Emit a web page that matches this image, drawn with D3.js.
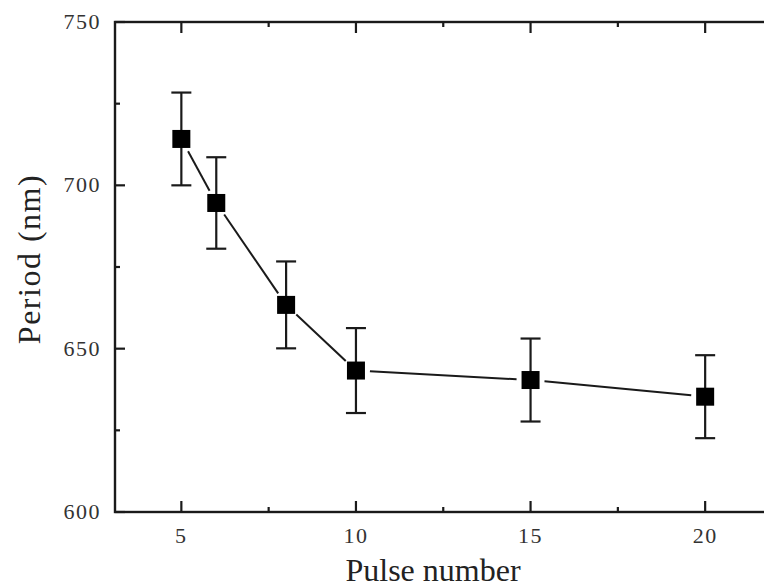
<!DOCTYPE html>
<html>
<head>
<meta charset="UTF-8">
<script src="https://cdnjs.cloudflare.com/ajax/libs/d3/7.8.5/d3.min.js"></script>
<style>
*{margin:0;padding:0}
body{background:#fff;overflow:hidden}
svg{display:block}
</style>
</head>
<body>
<div id="chart"></div>
<script>
// pulse number vs grating period
const pulses = [5, 6, 8, 10, 15, 20];
const periods = [714.2, 694.6, 663.4, 643.3, 640.4, 635.3];
const errors = [14.2, 14, 13.3, 13, 12.7, 12.7];
const xMajor = [5, 10, 15, 20];
const xMinor = [7.5, 12.5, 17.5];
const yMajor = [600, 650, 700, 750];
const yMinor = [625, 675, 725];

const W = 764, H = 587;
const x = d3.scaleLinear().domain([3.1, 22]).range([115, 775]);
const y = d3.scaleLinear().domain([600, 750]).range([512, 22]);
const serif = "'Liberation Serif','Times New Roman',serif";

const svg = d3.select('#chart').append('svg').attr('width', W).attr('height', H);

// frame (right side falls outside the picture)
svg.append('rect').attr('x', x.range()[0]).attr('y', y.range()[1])
  .attr('width', x.range()[1] - x.range()[0]).attr('height', y.range()[0] - y.range()[1])
  .attr('fill', 'none').attr('stroke', '#1a1a1a').attr('stroke-width', 2.4);

// inward ticks, mirrored on top
const tk = svg.append('g').attr('stroke', '#1a1a1a').attr('stroke-width', 2.2);
xMajor.forEach(v => {
  tk.append('line').attr('x1', x(v)).attr('x2', x(v)).attr('y1', y(600)).attr('y2', y(600) - 11);
  tk.append('line').attr('x1', x(v)).attr('x2', x(v)).attr('y1', y(750)).attr('y2', y(750) + 11);
});
xMinor.forEach(v => {
  tk.append('line').attr('x1', x(v)).attr('x2', x(v)).attr('y1', y(600)).attr('y2', y(600) - 5);
  tk.append('line').attr('x1', x(v)).attr('x2', x(v)).attr('y1', y(750)).attr('y2', y(750) + 5);
});
yMajor.forEach(v => tk.append('line').attr('x1', x(3.1)).attr('x2', x(3.1) + 10).attr('y1', y(v)).attr('y2', y(v)));
yMinor.forEach(v => tk.append('line').attr('x1', x(3.1)).attr('x2', x(3.1) + 5).attr('y1', y(v)).attr('y2', y(v)));

// tick labels
xMajor.forEach(v => svg.append('text').attr('x', x(v)).attr('y', 543).attr('text-anchor', 'middle')
  .attr('font-family', serif).attr('font-size', 22).attr('fill', '#333').attr('letter-spacing', 1.5).text(v));
yMajor.forEach(v => svg.append('text').attr('x', 101).attr('y', y(v) + 7).attr('text-anchor', 'end')
  .attr('font-family', serif).attr('font-size', 22).attr('fill', '#333').attr('letter-spacing', 1.5).text(v));

// axis titles
svg.append('text').attr('x', 433).attr('y', 581).attr('text-anchor', 'middle')
  .attr('font-family', serif).attr('font-size', 32).attr('fill', '#222').text('Pulse number');
svg.append('text').attr('transform', 'translate(40,259) rotate(-90)').attr('text-anchor', 'middle')
  .attr('font-family', serif).attr('font-size', 32).attr('fill', '#222').attr('letter-spacing', 1.5).text('Period (nm)');

// connecting line, broken around each marker
const pts = pulses.map((p, i) => [x(p), y(periods[i])]);
const gap = 14;
const lg = svg.append('g').attr('stroke', '#1a1a1a').attr('stroke-width', 2);
for (let i = 0; i < pts.length - 1; i++) {
  const [ax, ay] = pts[i], [bx, by] = pts[i + 1];
  const d = Math.hypot(bx - ax, by - ay), ux = (bx - ax) / d, uy = (by - ay) / d;
  lg.append('line').attr('x1', ax + ux * gap).attr('y1', ay + uy * gap)
    .attr('x2', bx - ux * gap).attr('y2', by - uy * gap);
}

// error bars
const eb = svg.append('g').attr('stroke', '#1a1a1a').attr('stroke-width', 2.2);
pulses.forEach((p, i) => {
  const cx = x(p), t = y(periods[i] + errors[i]), b = y(periods[i] - errors[i]);
  eb.append('line').attr('x1', cx).attr('x2', cx).attr('y1', t).attr('y2', b);
  eb.append('line').attr('x1', cx - 10).attr('x2', cx + 10).attr('y1', t).attr('y2', t);
  eb.append('line').attr('x1', cx - 10).attr('x2', cx + 10).attr('y1', b).attr('y2', b);
});

// square markers
const ms = 18;
svg.append('g').selectAll('rect').data(pulses).join('rect')
  .attr('x', (p) => x(p) - ms / 2).attr('y', (p, i) => y(periods[i]) - ms / 2)
  .attr('width', ms).attr('height', ms).attr('fill', '#000');
</script>
</body>
</html>
